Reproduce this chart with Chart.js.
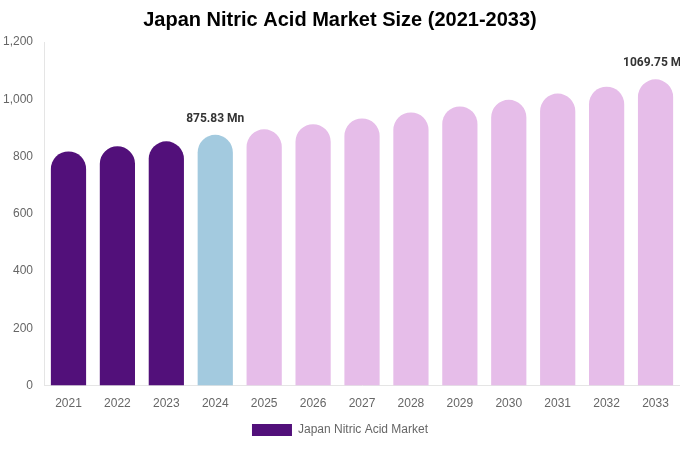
<!DOCTYPE html>
<html>
<head>
<meta charset="utf-8">
<script src="https://cdn.jsdelivr.net/npm/chart.js@4"></script>
<style>
  body { margin: 0; background: #fff; }
  #wrap { width: 680px; height: 450px; }
</style>
</head>
<body>
<div id="wrap"><canvas id="barChart"></canvas></div>
<script>
const years = ["2021", "2022", "2023", "2024", "2025", "2026", "2027", "2028", "2029", "2030", "2031", "2032", "2033"];
const marketSize = [818, 836, 853, 875.83, 895, 913, 933, 954, 975, 998, 1020, 1044, 1069.75];
const labelled = { 3: "875.83 Mn", 12: "1069.75 Mn" };

const barColors = years.map(function (y, i) {
    if (i < 3) return "#52107a";
    if (i === 3) return "#a3cadf";
    return "#e6bde9";
});

// draws the value notes above the chosen bars
const valueNotes = {
    id: "valueNotes",
    afterDatasetsDraw(chart) {
        const ctx = chart.ctx;
        const meta = chart.getDatasetMeta(0);
        ctx.save();
        ctx.font = "bold 12px Roboto, 'Liberation Sans', sans-serif";
        ctx.fillStyle = "#333";
        ctx.textAlign = "center";
        ctx.textBaseline = "bottom";
        Object.keys(labelled).forEach(function (k) {
            const bar = meta.data[k];
            ctx.fillText(labelled[k], bar.x, bar.y - 10);
        });
        ctx.restore();
    }
};

new Chart(document.getElementById("barChart").getContext("2d"), {
    type: "bar",
    data: {
        labels: years,
        datasets: [{
            label: "Japan Nitric Acid Market",
            data: marketSize,
            backgroundColor: barColors,
            borderRadius: { topLeft: 20, topRight: 20 },
            borderSkipped: "bottom",
            categoryPercentage: 0.72,
            barPercentage: 1
        }]
    },
    options: {
        responsive: true,
        maintainAspectRatio: false,
        animation: false,
        layout: { padding: { left: 0, right: 0, top: 0, bottom: 4 } },
        scales: {
            y: {
                min: 0,
                max: 1200,
                ticks: { stepSize: 200, color: "#666", font: { size: 12 } },
                grid: { display: false },
                border: { color: "#e5e5e5" }
            },
            x: {
                ticks: { color: "#666", font: { size: 12 } },
                grid: { display: false },
                border: { color: "#e5e5e5" }
            }
        },
        plugins: {
            title: {
                display: true,
                text: "Japan Nitric Acid Market Size (2021-2033)",
                color: "#000",
                font: { size: 20, weight: "bold" },
                padding: { top: 8, bottom: 10 }
            },
            legend: {
                position: "bottom",
                labels: {
                    color: "#666",
                    boxWidth: 40,
                    boxHeight: 12,
                    generateLabels: function () {
                        return [{ text: "Japan Nitric Acid Market", fillStyle: "#52107a", strokeStyle: "#52107a", lineWidth: 0, fontColor: "#666" }];
                    }
                }
            },
            tooltip: { enabled: false }
        }
    },
    plugins: [valueNotes]
});
</script>
</body>
</html>
